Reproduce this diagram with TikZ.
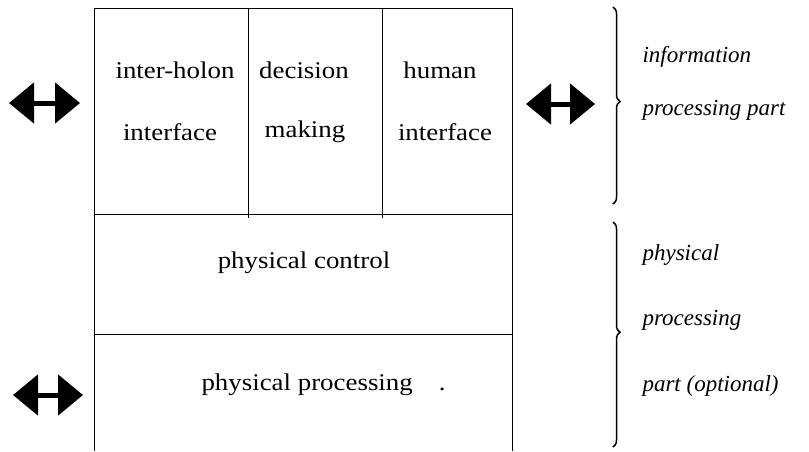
\documentclass[tikz,border=0pt]{standalone}
\usepackage{fontspec}
\setmainfont{Liberation Serif}
\newfontfamily\boxfont{Liberation Serif}[FakeStretch=1.12]
\usetikzlibrary{arrows.meta}
\usetikzlibrary{decorations.pathreplacing}
\tikzset{
  boxtext/.style={font=\boxfont\fontsize{24}{28}\selectfont},
  parttext/.style={font=\fontsize{23}{27}\selectfont\itshape, anchor=west},
  fatarrow/.style={line width=5pt, {Triangle[length=25pt,width=40pt]}-{Triangle[length=25pt,width=40pt]}},
  partbrace/.style={decorate, decoration={brace, amplitude=7pt, aspect=#1}, line width=1.5pt},
}

\begin{document}
\begin{tikzpicture}[x=1pt, y=-1pt]
  \useasboundingbox (0,0) rectangle (809,451);

  % 坐标点定义
  \coordinate (A) at (94,8);
  \coordinate (B) at (512,8);
  \coordinate (C) at (94,451);
  \coordinate (D) at (512,451);
  \coordinate (E) at (94,214);
  \coordinate (F) at (512,214);
  \coordinate (G) at (94,334);
  \coordinate (H) at (512,334);
  \coordinate (I) at (248,8);
  \coordinate (J) at (248,218);
  \coordinate (K) at (382,8);
  \coordinate (L) at (382,218);

  % 框
  \draw (C) -- (A) -- (B) -- (D);
  \draw (E) -- (F);
  \draw (G) -- (H);
  \draw[semithick] (I) -- (J);
  \draw[semithick] (K) -- (L);

  % 双向箭头
  \coordinate (P_1) at (9,103);
  \coordinate (P_2) at (80,103);
  \coordinate (Q_1) at (526,104);
  \coordinate (Q_2) at (595,104);
  \coordinate (R_1) at (13,395);
  \coordinate (R_2) at (83,395);
  \draw[fatarrow] (P_1) -- (P_2);
  \draw[fatarrow] (Q_1) -- (Q_2);
  \draw[fatarrow] (R_1) -- (R_2);

  % 括号
  \coordinate (S_1) at (613,7);
  \coordinate (S_2) at (613,204);
  \coordinate (T_1) at (613,222);
  \coordinate (T_2) at (613,447);
  \draw[partbrace=0.48] (S_1) -- (S_2);
  \draw[partbrace=0.49] (T_1) -- (T_2);

  % 文本标签
  \node[boxtext] (ihA) at (175,70) {inter-holon};
  \node[boxtext] (ihB) at (170,132) {interface};
  \node[boxtext] (dmA) at (304,70) {decision};
  \node[boxtext] (dmB) at (305,132) {making};
  \node[boxtext] (hiA) at (440,70) {human};
  \node[boxtext] (hiB) at (445,132) {interface};
  \node[boxtext] (pc) at (304,263) {physical control};
  \node[boxtext, anchor=west] (pp) at (198,385) {physical processing\hspace{26pt}.};

  \node[parttext] (ipA) at (639,57) {information};
  \node[parttext] (ipB) at (639,110) {processing part};
  \node[parttext] (ppA) at (639,255) {physical};
  \node[parttext] (ppB) at (639,320) {processing};
  \node[parttext] (ppC) at (639,386) {part (optional)};
\end{tikzpicture}
\end{document}
